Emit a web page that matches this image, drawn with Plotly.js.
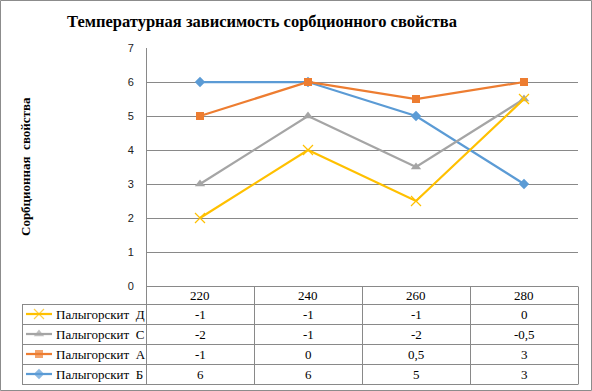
<!DOCTYPE html>
<html><head><meta charset="utf-8">
<script src="https://cdn.plot.ly/plotly-3.0.1.min.js"></script>
<style>html,body{margin:0;padding:0;background:#fff}#c{width:592px;height:391px}</style>
</head><body><div id="c"></div>
<script>
// ---- data ----
var categories = ['220', '240', '260', '280'];
var seriesNames = ['Палыгорскит  Б', 'Палыгорскит  А', 'Палыгорскит  С', 'Палыгорскит  Д']; // stacking order
var valuesB = [6, 6, 5, 3];
var valuesA = [-1, 0, 0.5, 3];
var valuesC = [-2, -1, -2, -0.5];
var valuesD = [-1, -1, -1, 0];
var yTicks = [0, 1, 2, 3, 4, 5, 6, 7];
var titleText = 'Температурная зависимость сорбционного свойства';
var yTitleText = 'Сорбционная  свойства';

// ---- styles ----
var colors = ['#5B9BD5', '#ED7D31', '#A5A5A5', '#FFC000'];
var symbols = ['diamond', 'square', 'triangle-up', 'x-thin'];
var msizes = [8, 8, 9, 10];
var W = 592, H = 391;
function X(px){ return px / W; }
function Y(py){ return (H - py) / H; }
var grid = '#898989';
var serif = 'Liberation Serif';

var seriesVals = [valuesB, valuesA, valuesC, valuesD];
var traces = [];
var cum = [0, 0, 0, 0];
seriesVals.forEach(function(vals, i){
  cum = cum.map(function(c, k){ return c + vals[k]; });
  traces.push({
    type: 'scatter', mode: 'lines+markers', x: categories, y: cum.slice(),
    name: seriesNames[i], showlegend: false, hoverinfo: 'skip',
    line: {color: colors[i], width: 2.25},
    marker: {symbol: symbols[i], size: msizes[i], color: colors[i],
             line: {color: colors[i], width: i === 3 ? 1.2 : 0}}
  });
});

var rowOrder = [3, 2, 1, 0];
var annotations = [];
rowOrder.forEach(function(si, r){
  traces.push({
    type: 'scatter', mode: 'lines+markers', xaxis: 'x2', yaxis: 'y2',
    x: [26, 39, 52], y: [r, r, r], showlegend: false, hoverinfo: 'skip',
    line: {color: colors[si], width: 2.25},
    marker: {symbol: symbols[si], size: [0, msizes[si], 0], color: colors[si],
             line: {color: colors[si], width: si === 3 ? 1.2 : 0}}
  });
  annotations.push({xref: 'x2', yref: 'y2', x: 54, y: r, xanchor: 'left', yanchor: 'middle',
    text: seriesNames[si], showarrow: false, font: {family: serif, size: 13, color: '#000'}});
  seriesVals[si].forEach(function(v, k){
    annotations.push({xref: 'x', yref: 'y2', x: k, y: r, xanchor: 'center', yanchor: 'middle',
      text: String(v).replace('.', ','), showarrow: false, font: {family: serif, size: 13, color: '#000'}});
  });
});
categories.forEach(function(c, k){
  annotations.push({xref: 'x', yref: 'paper', x: k, y: Y(295), xanchor: 'center', yanchor: 'middle',
    text: c, showarrow: false, font: {family: serif, size: 13, color: '#000'}});
});
annotations.push({xref: 'paper', yref: 'paper', x: X(262), y: Y(22), xanchor: 'center', yanchor: 'middle',
  text: titleText, showarrow: false, font: {family: serif, size: 16.5, color: '#000', weight: 700}});
annotations.push({xref: 'paper', yref: 'paper', x: X(25), y: Y(167), xanchor: 'center', yanchor: 'middle',
  text: yTitleText, textangle: -90, showarrow: false, font: {family: serif, size: 13, color: '#000', weight: 700}});

var shapes = [];
function hl(py, x0, x1){ shapes.push({type: 'line', xref: 'paper', yref: 'paper', x0: X(x0), x1: X(x1), y0: Y(py), y1: Y(py), line: {color: grid, width: 1}}); }
function vl(px, y0, y1){ shapes.push({type: 'line', xref: 'paper', yref: 'paper', x0: X(px), x1: X(px), y0: Y(y0), y1: Y(y1), line: {color: grid, width: 1}}); }
hl(286.5, 146, 578);
[304.5, 324.5, 344.5, 364.5, 384.5].forEach(function(py){ hl(py, 22, 578); });
vl(22.5, 304.5, 384.5);
vl(146.5, 48, 384.5);
[254.5, 362.5, 470.5, 578.5].forEach(function(px){ vl(px, 286.5, 384.5); });
shapes.push({type: 'rect', xref: 'paper', yref: 'paper', x0: X(0.5), x1: X(591.5), y0: Y(390.5), y1: Y(0.5), line: {color: '#8c8c8c', width: 1}});

var layout = {
  width: W, height: H, margin: {l: 0, r: 0, t: 0, b: 0},
  paper_bgcolor: '#fff', plot_bgcolor: '#fff', showlegend: false,
  xaxis: {domain: [X(146), X(578)], type: 'category', range: [-0.5, 3.5], showgrid: false,
          showticklabels: false, zeroline: false, showline: false, fixedrange: true},
  yaxis: {domain: [Y(286), Y(48)], range: [0, 7], tickvals: yTicks, showgrid: true, gridcolor: grid, gridwidth: 1,
          zeroline: false, showline: false, ticks: 'outside', ticklen: 9, tickcolor: 'rgba(0,0,0,0)',
          tickfont: {family: 'Liberation Sans', size: 11, color: '#222'}},
  xaxis2: {domain: [X(22), X(146)], range: [22, 146], visible: false, anchor: 'y2'},
  yaxis2: {domain: [Y(384), Y(304)], range: [3.5, -0.5], visible: false, anchor: 'x2'},
  annotations: annotations, shapes: shapes
};
Plotly.newPlot('c', traces, layout, {staticPlot: true, displayModeBar: false});
</script></body></html>
